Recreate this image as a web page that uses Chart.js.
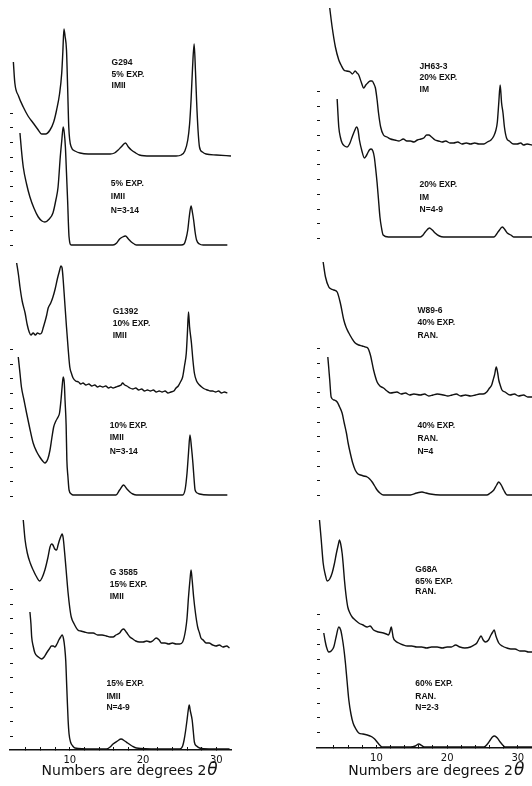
<!DOCTYPE html>
<html>
<head>
<meta charset="utf-8">
<script src="https://cdn.jsdelivr.net/npm/chart.js@4"></script>
<style>
  html, body { margin: 0; padding: 0; background: #fff; }
  body { width: 532px; height: 786px; position: relative; overflow: hidden; }
  .panel { position: absolute; top: 0; width: 266px; height: 786px; }
</style>
</head>
<body>
<div class="panel" style="left:0"><canvas id="leftChart" width="266" height="786"></canvas></div>
<div class="panel" style="left:266px"><canvas id="rightChart" width="266" height="786"></canvas></div>
<script>
// degrees 2-theta and intensity (above each trace's own baseline)

// G294 observed
const g294Theta = [2.3, 2.5, 3.0, 3.65, 4.3, 5.0, 5.6, 6.15, 6.7, 7.3, 7.8, 8.2, 8.6, 8.9, 9.05, 9.2, 9.35, 9.55, 9.7, 9.86,
  10.2, 10.7, 11.4, 12.5, 14.1, 15.5, 16.1, 16.6, 17.0, 17.6, 18.0, 18.4, 19.0, 19.5, 21.0, 23.2, 24.5, 25.2, 25.7, 26.1,
  26.35, 26.55, 26.75, 26.97, 27.15, 27.3, 27.5, 27.7, 28.1, 28.6, 30.0, 32.0];
const g294Int = [94, 73, 60, 49, 40, 33, 27, 22, 22, 26, 34, 46, 62, 83, 104, 127, 120, 106, 70, 29,
  9, 5, 3, 2, 2, 2, 3, 6, 9, 13, 9, 6, 3, 1, 0, 0, 0, 1, 5, 16,
  32, 56, 88, 112, 85, 56, 26, 9, 4, 2, 1, 0];

// 5% expandable calculated
const calc5Theta = [3.2, 3.4, 3.65, 4.1, 4.56, 5.1, 5.7, 6.2, 6.6, 7.2, 7.7, 8.1, 8.4, 8.7, 8.9, 9.1, 9.25, 9.4, 9.55, 9.7,
  9.9, 10.2, 10.6, 12.0, 14.0, 15.9, 16.4, 16.8, 17.2, 17.6, 18.0, 18.4, 18.8, 19.1, 21.0, 23.5, 25.2, 25.6, 25.85, 26.1,
  26.3, 26.55, 26.75, 26.9, 27.1, 27.3, 27.7, 28.2, 30.0, 31.5];
const calc5Int = [112, 95, 78, 61, 48, 37, 28, 24, 23, 26, 32, 45, 58, 88, 104, 118, 112, 98, 72, 45,
  8, 0, 0, 0, 0, 0, 2, 6, 8, 9, 6, 3, 1, 0, 0, 0, 0, 1, 6, 15,
  28, 39, 32, 25, 13, 5, 1, 0, 0, 0];

// G1392 observed
const g1392Theta = [2.75, 3.0, 3.2, 3.5, 3.9, 4.2, 4.46, 4.7, 5.0, 5.3, 5.6, 5.9, 6.15, 6.4, 6.6, 6.85, 7.05, 7.4, 7.7, 8.0,
  8.3, 8.55, 8.8, 8.95, 9.1, 9.3, 9.55, 9.8, 10.0, 10.25, 10.45, 10.8, 11.2, 11.5, 11.8, 12.2, 12.6, 13.0, 13.4, 13.8,
  14.1, 14.5, 14.9, 15.3, 15.6, 15.9, 16.3, 16.7, 17.0, 17.2, 17.5, 17.8, 18.2, 18.6, 19.0, 19.4, 19.8, 20.2, 20.6, 21.0,
  21.4, 21.8, 22.2, 22.6, 23.0, 23.4, 23.8, 24.2, 24.5, 24.8, 25.1, 25.4, 25.65, 25.9, 26.05, 26.2, 26.35, 26.6, 26.8, 27.0,
  27.3, 27.7, 28.0, 28.4, 28.8, 29.2, 29.5, 29.9, 30.3, 30.7, 31.1, 31.5];
const g1392Int = [130, 118, 106, 92, 80, 68, 61, 58, 60, 58, 60, 59, 60, 66, 71, 78, 85, 90, 96, 104,
  114, 121, 127, 125, 113, 92, 66, 42, 26, 19, 15, 12, 11, 9, 10, 8, 9, 7, 8, 6,
  7, 6, 7, 5, 6, 5, 6, 7, 8, 10, 8, 7, 5, 4, 5, 3, 4, 2, 3, 2,
  3, 1, 2, 1, 2, 0, 1, 2, 5, 7, 11, 16, 27, 40, 60, 81, 66, 50, 33, 20,
  12, 8, 6, 4, 3, 2, 2, 1, 2, 0, 1, 0];

// 10% expandable calculated
const calc10Theta = [2.97, 3.2, 3.4, 3.75, 4.1, 4.5, 5.0, 5.5, 5.9, 6.3, 6.6, 7.0, 7.3, 7.55, 7.8, 8.1, 8.4, 8.6, 8.8, 8.95,
  9.1, 9.25, 9.35, 9.5, 9.6, 9.75, 9.9, 10.2, 10.45, 13.0, 16.3, 16.8, 17.35, 17.8, 18.2, 18.6, 19.1, 22.0, 25.4, 25.75,
  26.0, 26.2, 26.4, 26.6, 26.8, 26.95, 27.1, 27.4, 27.7, 29.0, 31.5];
const calc10Int = [138, 122, 108, 95, 82, 68, 52, 43, 38, 34, 32, 36, 45, 57, 68, 74, 78, 82, 95, 108,
  118, 112, 95, 70, 35, 18, 5, 1, 0, 0, 0, 5, 10, 6, 3, 1, 0, 0, 0, 6,
  22, 42, 60, 48, 32, 17, 5, 2, 1, 0, 0];

// G3585 observed
const g3585Theta = [3.65, 3.9, 4.2, 4.6, 5.0, 5.4, 5.9, 6.2, 6.6, 7.0, 7.3, 7.5, 7.7, 7.95, 8.2, 8.4, 8.6, 8.8, 8.95, 9.1,
  9.3, 9.5, 9.77, 10.0, 10.2, 10.6, 11.1, 11.5, 12.0, 12.6, 13.2, 13.8, 14.4, 15.0, 15.5, 15.9, 16.3, 16.8, 17.1, 17.35,
  17.7, 18.2, 18.6, 19.0, 19.5, 20.0, 20.5, 21.0, 21.3, 21.8, 22.2, 22.5, 23.0, 23.5, 24.0, 24.5, 25.0, 25.4, 25.8, 26.0,
  26.2, 26.4, 26.55, 26.7, 26.9, 27.15, 27.45, 27.7, 27.9, 28.2, 28.6, 29.0, 29.5, 29.95, 30.4, 30.9, 31.4, 31.8];
const g3585Int = [128, 108, 95, 85, 78, 72, 67, 70, 78, 90, 101, 104, 103, 99, 98, 103, 108, 112, 114, 110,
  95, 78, 55, 40, 31, 24, 18, 17, 16, 15, 15, 13, 13, 12, 11, 11, 13, 15, 18, 19,
  16, 11, 9, 7, 6, 6, 7, 6, 7, 10, 8, 5, 5, 4, 5, 4, 4, 6, 18, 30,
  51, 68, 78, 68, 51, 35, 21, 15, 10, 8, 5, 5, 3, 2, 3, 1, 2, 0];

// 15% expandable calculated
const calc15Theta = [4.56, 4.7, 4.8, 5.0, 5.24, 5.7, 6.15, 6.5, 6.83, 7.2, 7.5, 7.75, 7.96, 8.25, 8.5, 8.75, 8.95, 9.15, 9.3, 9.45,
  9.55, 9.65, 9.77, 9.9, 10.1, 10.4, 10.7, 13.0, 15.0, 15.5, 15.9, 16.5, 17.0, 17.5, 17.9, 18.5, 19.1, 22.0, 25.0, 25.4,
  25.6, 25.8, 26.0, 26.15, 26.3, 26.45, 26.7, 26.85, 27.0, 27.3, 27.7, 29.0, 31.8];
const calc15Int = [137, 125, 112, 103, 96, 92, 90, 92, 96, 100, 103, 103, 102, 105, 109, 112, 114, 110, 102, 88,
  69, 50, 29, 15, 7, 3, 1, 0, 0, 2, 5, 8, 10, 8, 6, 3, 1, 0, 0, 3,
  9, 18, 29, 38, 44, 38, 29, 18, 7, 3, 1, 0, 0];

// JH63-3 observed
const jh633Theta = [3.4, 3.74, 4.2, 4.68, 5.0, 5.4, 5.8, 6.3, 6.6, 7.0, 7.25, 7.5, 7.85, 8.2, 8.5, 8.77, 9.1, 9.4, 9.65, 9.86,
  10.1, 10.3, 10.6, 11.0, 11.5, 12.0, 12.6, 13.2, 13.8, 14.3, 14.8, 15.3, 15.8, 16.3, 16.7, 17.1, 17.4, 17.8, 18.3, 18.8,
  19.3, 19.8, 20.4, 20.9, 21.5, 22.1, 22.7, 23.3, 23.9, 24.5, 25.2, 25.7, 26.2, 26.6, 26.9, 27.1, 27.3, 27.5, 27.7, 27.9,
  28.1, 28.4, 28.8, 29.4, 29.9, 30.4, 30.8, 31.3, 32.0];
const jh633Int = [137, 118, 98, 85, 80, 75, 74, 73, 71, 74, 72, 70, 63, 57, 60, 62, 64, 64, 61, 57,
  45, 32, 18, 10, 8, 6, 5, 4, 6, 4, 4, 3, 5, 6, 7, 10, 10, 8, 5, 4,
  3, 4, 2, 2, 3, 1, 2, 1, 2, 1, 1, 3, 5, 9, 15, 23, 42, 60, 42, 32,
  18, 7, 4, 1, 1, 2, 0, 1, 0];

// 20% expandable calculated
const calc20Theta = [4.45, 4.55, 4.68, 4.9, 5.15, 5.5, 5.86, 6.2, 6.57, 6.9, 7.2, 7.4, 7.6, 7.95, 8.3, 8.55, 8.77, 9.0, 9.25, 9.5,
  9.7, 9.9, 10.1, 10.3, 10.5, 10.7, 10.95, 11.7, 14.0, 16.2, 16.6, 16.9, 17.5, 17.9, 18.3, 18.9, 19.5, 23.0, 26.6, 27.0,
  27.3, 27.8, 28.2, 28.5, 29.0, 29.4, 32.0];
const calc20Int = [138, 125, 110, 100, 94, 91, 90, 93, 100, 106, 110, 107, 97, 86, 79, 81, 84, 87, 88, 86,
  80, 68, 54, 37, 20, 10, 2, 0, 0, 0, 2, 5, 9, 7, 4, 1, 0, 0, 0, 3,
  6, 10, 7, 4, 2, 0, 0];

// W89-6 observed
const w896Theta = [2.47, 2.8, 3.27, 3.6, 3.97, 4.45, 4.9, 5.39, 5.7, 6.1, 6.5, 7.0, 7.5, 8.0, 8.4, 8.77, 9.15, 9.6, 10.1, 10.5,
  11.0, 11.5, 12.0, 12.9, 13.5, 14.1, 14.7, 15.3, 16.2, 16.8, 17.4, 18.0, 18.6, 19.5, 20.1, 20.7, 21.3, 21.9, 22.6, 23.3,
  24.0, 24.6, 25.1, 25.6, 26.0, 26.3, 26.5, 26.7, 26.95, 27.15, 27.3, 27.5, 27.75, 28.2, 28.9, 29.5, 30.1, 30.8, 31.4, 32.0];
const w896Int = [135, 120, 110, 108, 107, 105, 94, 77, 70, 64, 59, 54, 52, 51, 50, 49, 42, 27, 15, 11,
  9, 6, 4, 5, 3, 4, 2, 3, 2, 3, 1, 2, 3, 2, 1, 2, 3, 1, 2, 1,
  2, 3, 3, 5, 9, 12, 17, 22, 30, 24, 17, 12, 7, 5, 2, 3, 1, 2, 0, 0];

// 40% expandable calculated
const calc40Theta = [3.13, 3.25, 3.4, 3.6, 4.0, 4.45, 4.8, 5.15, 5.45, 5.76, 6.0, 6.3, 6.65, 7.0, 7.4, 7.74, 8.2, 8.7, 9.05, 9.4,
  9.75, 10.1, 10.5, 11.0, 14.8, 15.7, 16.45, 17.0, 17.6, 19.0, 25.6, 26.1, 26.6, 27.0, 27.3, 27.65, 28.0, 28.5, 32.0];
const calc40Int = [138, 128, 115, 98, 95, 93, 88, 82, 72, 62, 52, 42, 32, 25, 21, 20, 19, 18, 16, 13,
  9, 5, 2, 0, 0, 2, 3, 2, 1, 0, 0, 2, 5, 10, 13, 10, 5, 0, 0];

// G68A observed
const g68aTheta = [1.95, 2.2, 2.47, 2.75, 3.04, 3.4, 3.74, 4.05, 4.35, 4.6, 4.77, 4.95, 5.15, 5.3, 5.48, 5.7, 5.95, 6.25, 6.57, 7.0,
  7.5, 8.1, 8.7, 9.1, 9.6, 10.3, 11.0, 11.4, 11.7, 11.9, 12.1, 12.25, 12.36, 12.7, 13.15, 13.8, 14.4, 15.0, 15.7, 16.4,
  17.1, 17.8, 18.6, 19.3, 20.0, 20.6, 21.2, 21.8, 22.5, 23.3, 23.8, 24.2, 24.5, 24.8, 25.1, 25.4, 25.85, 26.2, 26.45, 26.65,
  26.9, 27.3, 27.8, 28.45, 29.0, 29.6, 30.3, 31.0, 31.5, 32.0];
const g68aInt = [132, 112, 89, 78, 71, 73, 79, 88, 99, 107, 112, 108, 99, 88, 72, 57, 45, 39, 35, 32,
  29, 27, 25, 26, 22, 20, 19, 18, 17, 20, 25, 20, 15, 11, 9, 7, 6, 6, 5, 5,
  4, 5, 5, 4, 5, 5, 7, 5, 4, 5, 7, 9, 13, 16, 12, 10, 12, 17, 20, 22,
  16, 9, 6, 4, 3, 3, 1, 1, 0, 0];

// 60% expandable calculated
const calc60Theta = [2.56, 2.75, 2.94, 3.27, 3.6, 3.97, 4.3, 4.68, 4.95, 5.15, 5.4, 5.62, 5.85, 6.1, 6.4, 6.7, 7.1, 7.5, 8.1, 8.7,
  9.1, 9.4, 9.75, 10.1, 10.45, 10.8, 14.8, 15.5, 16.0, 16.5, 16.9, 25.2, 25.7, 26.1, 26.4, 26.7, 27.1, 27.5, 27.85, 28.2, 32.0];
const calc60Int = [114, 106, 100, 95, 96, 100, 110, 120, 117, 110, 98, 84, 66, 47, 33, 24, 18, 14, 13, 12,
  11, 10, 8, 5, 2, 0, 0, 1, 3, 1, 0, 0, 3, 7, 10, 11, 9, 5, 2, 0, 0];

// x tick labels
const xTicks = [4, 6, 8, 10, 12, 14, 16, 18, 20, 22, 24, 26, 28, 30];
const xLabelled = [10, 20, 30];

// vertical offset of each trace (stacking), in the same units as the intensities
const leftOffsets = [594, 505, 357, 255, 102, 1];
const rightOffsets = [603, 511, 351, 253, 96, 1];

const leftNotes = [
  { x: 15.7, y: [687, 675, 664], lines: ['G294', '5% EXP.', 'IMII'] },
  { x: 15.6, y: [566, 553, 539], lines: ['5% EXP.', 'IMII', 'N=3-14'] },
  { x: 15.85, y: [438, 426, 414], lines: ['G1392', '10% EXP.', 'IMII'] },
  { x: 15.45, y: [324, 312, 298], lines: ['10% EXP.', 'IMII', 'N=3-14'] },
  { x: 15.45, y: [177, 165, 153], lines: ['G 3585', '15% EXP.', 'IMII'] },
  { x: 15.0, y: [66, 53, 42], lines: ['15% EXP.', 'IMII', 'N=4-9'] }
];
const rightNotes = [
  { x: 16.1, y: [681, 670, 658], lines: ['JH63-3', '20% EXP.', 'IM'] },
  { x: 16.1, y: [563, 550, 538], lines: ['20% EXP.', 'IM', 'N=4-9'] },
  { x: 15.8, y: [437, 425, 412], lines: ['W89-6', '40% EXP.', 'RAN.'] },
  { x: 15.8, y: [322, 309, 296], lines: ['40% EXP.', 'RAN.', 'N=4'] },
  { x: 15.5, y: [178, 166, 156], lines: ['G68A', '65% EXP.', 'RAN.'] },
  { x: 15.5, y: [64, 51, 40], lines: ['60% EXP.', 'RAN.', 'N=2-3'] }
];

const tickBandsLeft = [[14, 161], [254, 415], [505, 651]];
const tickBandsRight = [[16, 146], [253, 413], [510, 664]];

const INK = '#111';

function trace(theta, inten, offset) {
  return {
    data: theta.map((t, i) => ({ x: t, y: offset + inten[i] })),
    borderColor: INK,
    borderWidth: 1.4,
    pointRadius: 0,
    fill: false,
    cubicInterpolationMode: 'monotone'
  };
}

const decorations = {
  id: 'decorations',
  afterDatasetsDraw(chart, args, opts) {
    const { ctx, chartArea } = chart;
    const x = chart.scales.x, y = chart.scales.y;
    ctx.save();
    ctx.fillStyle = INK;
    ctx.strokeStyle = INK;

    // little tick marks on the left edge
    ctx.lineWidth = 1;
    ctx.beginPath();
    opts.bands.forEach(([a, b]) => {
      for (let v = a; v <= b + 0.1; v += 14.7) {
        const py = Math.round(y.getPixelForValue(v)) + 0.5;
        ctx.moveTo(chartArea.left, py);
        ctx.lineTo(chartArea.left + 3, py);
      }
    });
    ctx.stroke();

    // sample notes
    ctx.font = 'bold 8.5px "Liberation Sans"';
    ctx.textBaseline = 'middle';
    ctx.textAlign = 'left';
    opts.notes.forEach(n => {
      n.lines.forEach((s, i) => ctx.fillText(s, x.getPixelForValue(n.x), y.getPixelForValue(n.y[i])));
    });

    // axis caption
    const main = 'Numbers are degrees 2';
    ctx.font = '14px "DejaVu Sans"';
    const w1 = ctx.measureText(main).width;
    ctx.font = 'italic 17px "DejaVu Sans"';
    const w2 = ctx.measureText('θ').width;
    const cx = x.getPixelForValue(opts.captionAt);
    const left = cx - (w1 + w2) / 2;
    ctx.textBaseline = 'alphabetic';
    ctx.font = '14px "DejaVu Sans"';
    ctx.fillText(main, left, opts.captionY);
    ctx.font = 'italic 17px "DejaVu Sans"';
    ctx.fillText('θ', left + w1 + 1, opts.captionY);
    ctx.restore();
  }
};

function makeChart(id, sets, xmin, yTop, padLeft, padRight, axisH, notes, bands, captionAt) {
  return new Chart(document.getElementById(id), {
    type: 'line',
    data: { datasets: sets },
    options: {
      responsive: false,
      animation: false,
      clip: false,
      layout: { padding: { left: padLeft, right: padRight, top: 0, bottom: 0 } },
      plugins: {
        legend: { display: false },
        tooltip: { enabled: false },
        decorations: { notes: notes, bands: bands, captionAt: captionAt, captionY: 775 }
      },
      scales: {
        x: {
          type: 'linear',
          min: xmin,
          max: 32,
          afterBuildTicks: s => { s.ticks = xTicks.map(v => ({ value: v })); },
          afterFit: s => { s.height = axisH; },
          border: { display: true, color: INK, width: 1.5 },
          grid: { drawOnChartArea: false, tickLength: -3, color: INK, lineWidth: 1 },
          ticks: {
            autoSkip: false,
            maxRotation: 0,
            padding: 7,
            color: INK,
            font: { family: 'DejaVu Sans', size: 10 },
            callback: v => xLabelled.includes(v) ? String(v) : ''
          }
        },
        y: { display: false, min: 0, max: yTop }
      }
    },
    plugins: [decorations]
  });
}

const leftSets = [
  trace(g294Theta, g294Int, leftOffsets[0]),
  trace(calc5Theta, calc5Int, leftOffsets[1]),
  trace(g1392Theta, g1392Int, leftOffsets[2]),
  trace(calc10Theta, calc10Int, leftOffsets[3]),
  trace(g3585Theta, g3585Int, leftOffsets[4]),
  trace(calc15Theta, calc15Int, leftOffsets[5])
];
const rightSets = [
  trace(jh633Theta, jh633Int, rightOffsets[0]),
  trace(calc20Theta, calc20Int, rightOffsets[1]),
  trace(w896Theta, w896Int, rightOffsets[2]),
  trace(calc40Theta, calc40Int, rightOffsets[3]),
  trace(g68aTheta, g68aInt, rightOffsets[4]),
  trace(calc60Theta, calc60Int, rightOffsets[5])
];

makeChart('leftChart', leftSets, 1.84, 750, 10, 35, 36, leftNotes, tickBandsLeft, 18.1);
makeChart('rightChart', rightSets, 1.6, 748, 51, 0, 38, rightNotes, tickBandsRight, 18.4);
</script>
</body>
</html>
